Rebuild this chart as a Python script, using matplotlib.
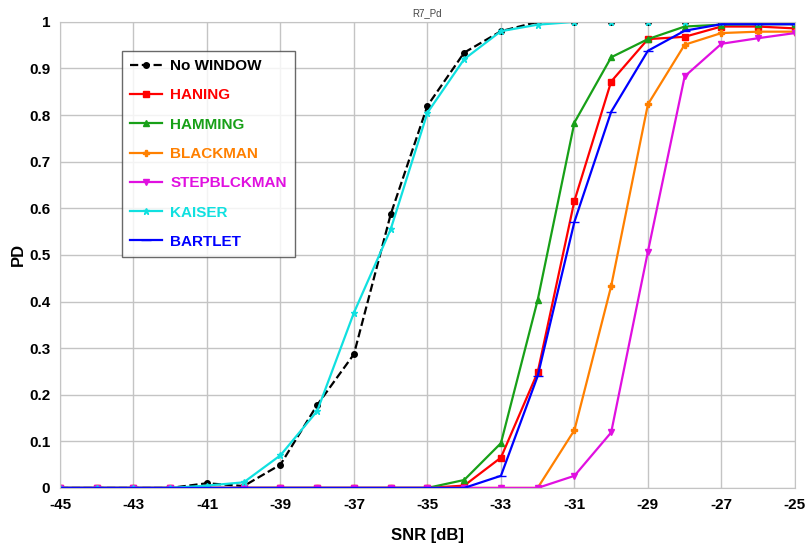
"""
PD vs SNR for different window functions (R7_Pd)
"""

import matplotlib
matplotlib.use("Agg")
import matplotlib.pyplot as plt

# SNR points in dB
snr = [-45, -44, -43, -42, -41, -40, -39, -38, -37, -36, -35,
       -34, -33, -32, -31, -30, -29, -28, -27, -26, -25]

# probability of detection per window
no_window = [0, 0, 0, 0, 0.01, 0.004, 0.05, 0.178, 0.287, 0.587, 0.82,
             0.934, 0.98, 1.0, 1.0, 1.0, 1.0, 1.0, 1.0, 1.0, 1.0]
haning = [0, 0, 0, 0, 0, 0, 0, 0, 0, 0, 0,
          0.005, 0.065, 0.248, 0.616, 0.872, 0.963, 0.968, 0.99, 0.99, 0.986]
hamming = [0, 0, 0, 0, 0, 0, 0, 0, 0, 0, 0,
           0.017, 0.096, 0.403, 0.784, 0.924, 0.963, 0.99, 0.994, 0.995, 0.995]
blackman = [0, 0, 0, 0, 0, 0, 0, 0, 0, 0, 0,
            0, 0, 0, 0.124, 0.433, 0.823, 0.951, 0.976, 0.979, 0.979]
stepblckman = [0, 0, 0, 0, 0, 0, 0, 0, 0, 0, 0,
               0, 0, 0, 0.026, 0.119, 0.507, 0.883, 0.953, 0.965, 0.976]
kaiser = [0, 0, 0, 0, 0.005, 0.012, 0.07, 0.165, 0.376, 0.555, 0.805,
          0.92, 0.98, 0.994, 1.0, 1.0, 1.0, 1.0, 1.0, 1.0, 1.0]
bartlet = [0, 0, 0, 0, 0, 0, 0, 0, 0, 0, 0,
           0, 0.026, 0.24, 0.571, 0.807, 0.938, 0.981, 0.995, 0.995, 0.995]

x_ticks = [-45, -43, -41, -39, -37, -35, -33, -31, -29, -27, -25]
y_ticks = [0, 0.1, 0.2, 0.3, 0.4, 0.5, 0.6, 0.7, 0.8, 0.9, 1]
y_labels = ["0", "0.1", "0.2", "0.3", "0.4", "0.5", "0.6", "0.7", "0.8", "0.9", "1"]

plt.rcParams['font.family'] = ['Liberation Sans', 'DejaVu Sans']
plt.rcParams['axes.unicode_minus'] = False

fig = plt.figure(figsize=(8.07, 5.47), dpi=100)
ax = fig.add_axes([0.0743, 0.108, 0.9107, 0.852])

# series: (label, data, color, linestyle, marker, markersize)
series = [
    ("No WINDOW", no_window, "black", "--", "o", 4),
    ("HANING", haning, "#ff0000", "-", "s", 5),
    ("HAMMING", hamming, "#18a018", "-", "^", 5),
    ("BLACKMAN", blackman, "#ff8000", "-", "P", 4),
    ("STEPBLCKMAN", stepblckman, "#e010e0", "-", "v", 5),
    ("KAISER", kaiser, "#10e0e0", "-", "*", 5),
    ("BARTLET", bartlet, "#0000ff", "-", "_", 7),
]

for label, vals, color, ls, mk, ms in series:
    ax.plot(snr, vals, color=color, linestyle=ls, marker=mk, markersize=ms,
            linewidth=1.6, label=label)

ax.set_xlim(-45, -25)
ax.set_ylim(0, 1)
ax.set_xticks(x_ticks)
ax.set_yticks(y_ticks)
ax.set_yticklabels(y_labels)
ax.tick_params(axis='both', length=0, labelsize=11, pad=7)
for t in ax.get_xticklabels() + ax.get_yticklabels():
    t.set_fontweight('bold')

ax.grid(True, color='#c4c4c4', linewidth=1.0)
ax.set_axisbelow(True)
for sp in ax.spines.values():
    sp.set_color('#c4c4c4')

ax.set_xlabel("SNR [dB]", fontsize=12, fontweight='bold', labelpad=12)
ax.set_ylabel("PD", fontsize=12, fontweight='bold', labelpad=2)
ax.set_title("R7_Pd", fontsize=7, color='#444444', pad=4)

leg = ax.legend(loc='upper left', bbox_to_anchor=(0.0844, 0.938),
                prop={'weight': 'bold', 'size': 11}, frameon=True, fancybox=False,
                edgecolor='#444444', handlelength=2.1, labelspacing=1.0,
                borderpad=0.55, handletextpad=0.5, borderaxespad=0)
leg.get_frame().set_linewidth(1.0)
for txt, s in zip(leg.get_texts(), series):
    txt.set_color(s[2])

fig.savefig("out.png", dpi=100)
